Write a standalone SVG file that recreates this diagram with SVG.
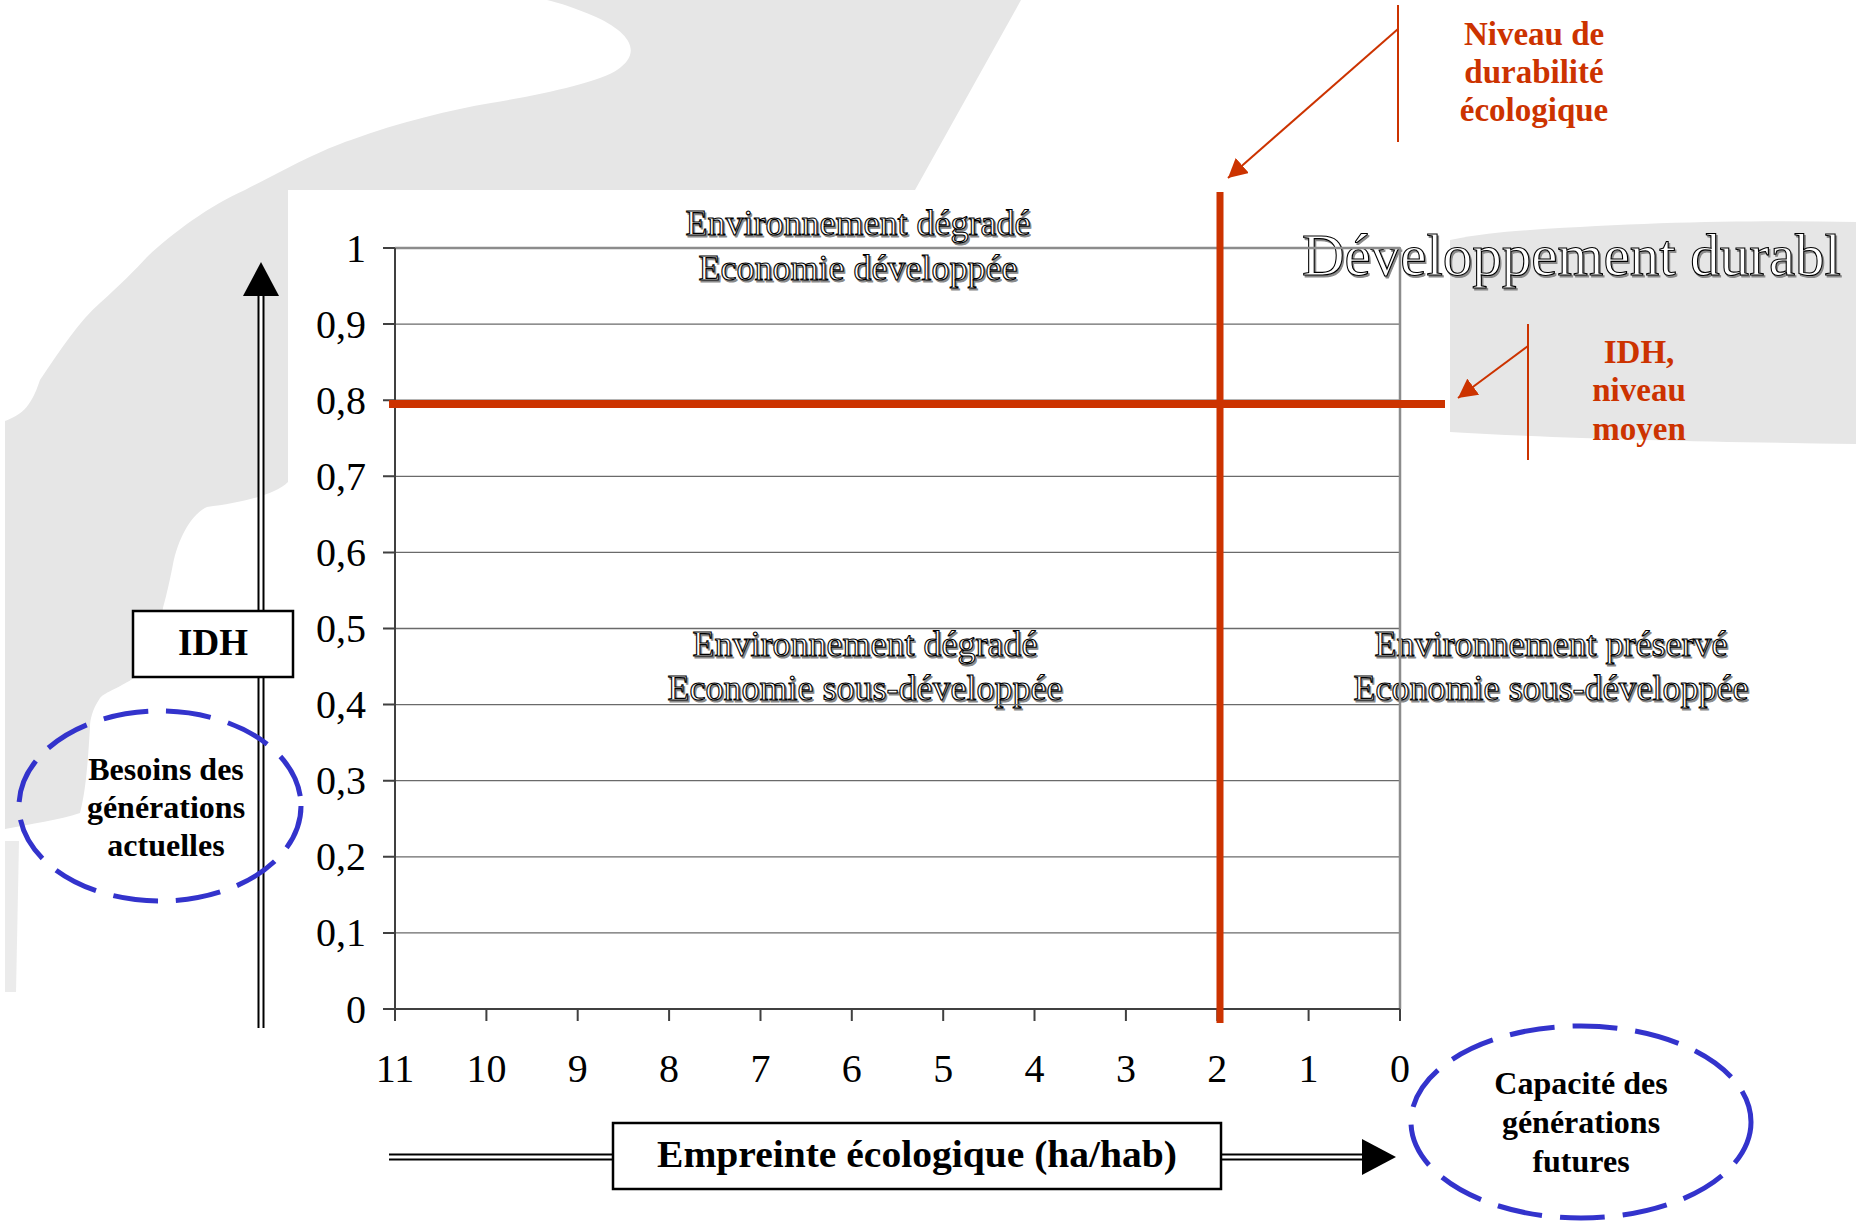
<svg xmlns="http://www.w3.org/2000/svg" width="1856" height="1221" viewBox="0 0 1856 1221">
<defs>
<style>
.bg{fill:#e6e6e6}
.grid{stroke:#6a6a6a;stroke-width:1.3;fill:none}
.axis{stroke:#404040;stroke-width:2;fill:none}
.border{stroke:#8c8c8c;stroke-width:2.5;fill:none}
.tick{font-family:"Liberation Serif",serif;font-size:40px;fill:#000}
.reg{font-family:"Liberation Serif",serif;font-size:36px;text-anchor:middle;fill:#fff;stroke:#000;stroke-width:1.1}
.regsh{font-family:"Liberation Serif",serif;font-size:36px;text-anchor:middle;fill:#8a8a8a;stroke:#8a8a8a;stroke-width:1.1}
.big{font-size:59px;text-anchor:start}
.lbl{font-family:"Liberation Serif",serif;font-weight:bold;fill:#000;text-anchor:middle}
.rlbl{font-family:"Liberation Serif",serif;font-weight:bold;fill:#cc3300;text-anchor:middle;font-size:33px}
.dash{fill:none;stroke:#3333cc;stroke-width:5;stroke-dasharray:45 18}
.dbo{stroke:#000;stroke-width:7;fill:none}
.dbi{stroke:#fff;stroke-width:3;fill:none}
.box{fill:#fff;stroke:#000;stroke-width:2.5}
.thin{stroke:#cc3300;stroke-width:2;fill:none}
</style>
<marker id="ra" viewBox="0 0 19 20" refX="19" refY="10" markerWidth="19" markerHeight="20" orient="auto" markerUnits="userSpaceOnUse">
<path d="M0,0 L19,10 L0,20 Z" fill="#cc3300"/>
</marker>
</defs>

<g id="background">
<path class="bg" d="M547,0 L1021,0 L915,190 L288,190 L288,482 C275,495 240,503 207,507 C190,515 178,540 173,564 C168,590 165,600 163,608 C158,640 150,665 140,674 C120,688 105,692 100,698 C92,710 90,720 90,727 C88,760 86,790 80,813 C60,820 30,824 5,829 L5,421 C20,415 30,410 40,380 C60,350 80,320 100,303 C120,285 135,270 147,257 C170,235 210,205 245,190 C280,172 320,150 351,140 C400,122 450,110 491,103 C540,95 600,82 617,70 C640,55 635,35 596,17 C575,8 560,3 547,0 Z"/>
<path class="bg" d="M5,841 L19,841 L16,992 L5,992 Z" opacity="0.8"/>
<rect x="288" y="190" width="1162" height="1031" fill="#fff"/>
<path class="bg" d="M1450,240 C1480,234 1500,232 1530,230 C1650,222 1750,220 1856,222 L1856,444 C1700,442 1550,438 1450,432 Z"/>
</g>

<g id="region-labels">
<text class="regsh" x="859.5" y="236.5">Environnement dégradé</text>
<text class="reg" x="858" y="235">Environnement dégradé</text>
<text class="regsh" x="859.5" y="281.5">Economie développée</text>
<text class="reg" x="858" y="280">Economie développée</text>
<text class="regsh" x="866.5" y="657.5">Environnement dégradé</text>
<text class="reg" x="865" y="656">Environnement dégradé</text>
<text class="regsh" x="866.5" y="701.5">Economie sous-développée</text>
<text class="reg" x="865" y="700">Economie sous-développée</text>
<text class="regsh" x="1552.5" y="657.5">Environnement préservé</text>
<text class="reg" x="1551" y="656">Environnement préservé</text>
<text class="regsh" x="1552.5" y="701.5">Economie sous-développée</text>
<text class="reg" x="1551" y="700">Economie sous-développée</text>
<text class="regsh big" x="1303.5" y="276.5">Développement durabl</text>
<text class="reg big" x="1302" y="275">Développement durabl</text>
</g>

<g id="chart">
<line class="border" x1="395" y1="248" x2="1400" y2="248"/>
<g class="grid">
<line x1="395" y1="324.1" x2="1400" y2="324.1"/>
<line x1="395" y1="400.2" x2="1400" y2="400.2"/>
<line x1="395" y1="476.3" x2="1400" y2="476.3"/>
<line x1="395" y1="552.4" x2="1400" y2="552.4"/>
<line x1="395" y1="628.5" x2="1400" y2="628.5"/>
<line x1="395" y1="704.6" x2="1400" y2="704.6"/>
<line x1="395" y1="780.7" x2="1400" y2="780.7"/>
<line x1="395" y1="856.8" x2="1400" y2="856.8"/>
<line x1="395" y1="932.9" x2="1400" y2="932.9"/>
</g>
<line class="border" x1="1400" y1="248" x2="1400" y2="1009"/>
<g class="axis">
<line x1="383" y1="1009" x2="1400" y2="1009"/>
<line x1="395" y1="248" x2="395" y2="1021"/>
<path d="M383,248H395M383,324.1H395M383,400.2H395M383,476.3H395M383,552.4H395M383,628.5H395M383,704.6H395M383,780.7H395M383,856.8H395M383,932.9H395"/>
<path d="M486.4,1009V1021M577.7,1009V1021M669.1,1009V1021M760.5,1009V1021M851.8,1009V1021M943.2,1009V1021M1034.5,1009V1021M1125.9,1009V1021M1217.3,1009V1021M1308.6,1009V1021M1400,1009V1021"/>
</g>
<g class="tick" text-anchor="end">
<text x="366" y="261.5">1</text>
<text x="366" y="337.6">0,9</text>
<text x="366" y="413.7">0,8</text>
<text x="366" y="489.8">0,7</text>
<text x="366" y="565.9">0,6</text>
<text x="366" y="642">0,5</text>
<text x="366" y="718.1">0,4</text>
<text x="366" y="794.2">0,3</text>
<text x="366" y="870.3">0,2</text>
<text x="366" y="946.4">0,1</text>
<text x="366" y="1022.5">0</text>
</g>
<g class="tick" text-anchor="middle">
<text x="395" y="1082">11</text>
<text x="486.4" y="1082">10</text>
<text x="577.7" y="1082">9</text>
<text x="669.1" y="1082">8</text>
<text x="760.5" y="1082">7</text>
<text x="851.8" y="1082">6</text>
<text x="943.2" y="1082">5</text>
<text x="1034.5" y="1082">4</text>
<text x="1125.9" y="1082">3</text>
<text x="1217.3" y="1082">2</text>
<text x="1308.6" y="1082">1</text>
<text x="1400" y="1082">0</text>
</g>
</g>

<g id="connectors">
<line x1="1220" y1="192" x2="1220" y2="1023" stroke="#cc3300" stroke-width="7"/>
<line x1="389" y1="404" x2="1445" y2="404" stroke="#cc3300" stroke-width="8"/>
<line class="thin" x1="1398" y1="5" x2="1398" y2="142"/>
<line class="thin" x1="1398" y1="29" x2="1228" y2="178" marker-end="url(#ra)"/>
<line class="thin" x1="1528" y1="324" x2="1528" y2="460"/>
<line class="thin" x1="1528" y1="346" x2="1458" y2="398" marker-end="url(#ra)"/>
<line class="dbo" x1="261" y1="294" x2="261" y2="1028"/>
<line class="dbi" x1="261" y1="294" x2="261" y2="1028"/>
<polygon points="261,262 243,296 279,296" fill="#000"/>
<line class="dbo" x1="389" y1="1157" x2="1364" y2="1157"/>
<line class="dbi" x1="389" y1="1157" x2="1364" y2="1157"/>
<polygon points="1396,1157 1362,1139 1362,1175" fill="#000"/>
</g>

<g id="annot-durabilite">
<text class="rlbl" x="1534" y="45">Niveau de</text>
<text class="rlbl" x="1534" y="83">durabilité</text>
<text class="rlbl" x="1534" y="121">écologique</text>
</g>
<g id="annot-idh">
<text class="rlbl" x="1639" y="363">IDH,</text>
<text class="rlbl" x="1639" y="401">niveau</text>
<text class="rlbl" x="1639" y="440">moyen</text>
</g>

<g id="idh-box">
<rect class="box" x="133" y="611" width="160" height="66"/>
<text class="lbl" x="213" y="655" font-size="37">IDH</text>
</g>

<g id="empreinte-box">
<rect class="box" x="613" y="1123" width="608" height="66"/>
<text class="lbl" x="917" y="1167" font-size="37" textLength="520" lengthAdjust="spacingAndGlyphs">Empreinte écologique (ha/hab)</text>
</g>

<g id="besoins">
<ellipse class="dash" cx="160" cy="806" rx="141" ry="95"/>
<text class="lbl" x="166" y="780" font-size="32">Besoins des</text>
<text class="lbl" x="166" y="818" font-size="32">générations</text>
<text class="lbl" x="166" y="856" font-size="32">actuelles</text>
</g>

<g id="capacite">
<ellipse class="dash" cx="1581" cy="1122" rx="170" ry="96"/>
<text class="lbl" x="1581" y="1094" font-size="32">Capacité des</text>
<text class="lbl" x="1581" y="1133" font-size="32">générations</text>
<text class="lbl" x="1581" y="1172" font-size="32">futures</text>
</g>
</svg>
